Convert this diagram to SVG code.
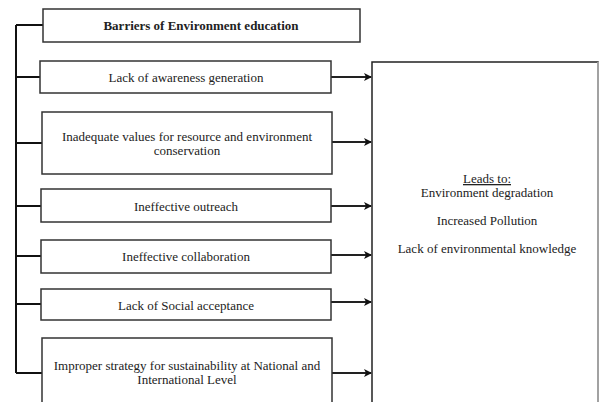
<svg xmlns="http://www.w3.org/2000/svg" width="603" height="402" viewBox="0 0 603 402">
<defs>
<style>
.box{fill:#fff;stroke:#333;stroke-width:1.5}
.t{font-family:"Liberation Serif","Times New Roman",serif;font-size:13px;fill:#222;text-anchor:middle}
.b{font-weight:bold}
.ln{fill:none;stroke:#111;stroke-width:2}
.ar{fill:none;stroke:#222;stroke-width:2}
</style>
<marker id="ah" markerWidth="10" markerHeight="10" refX="8" refY="5" orient="auto" markerUnits="userSpaceOnUse">
<path d="M1,1 L9,5 L1,9 L3,5 Z" fill="#111"/>
</marker>
</defs>
<rect width="603" height="402" fill="#fff"/>
<g id="connectors">
<path class="ln" d="M16,25 L16,373"/>
<path class="ln" d="M16,25 H43 M16,77 H40 M16,143 H42 M16,206 H41 M16,256 H41 M16,304 H41 M16,373 H42"/>
<path class="ar" marker-end="url(#ah)" d="M331,77 H371"/>
<path class="ar" marker-end="url(#ah)" d="M332,142 H371"/>
<path class="ar" marker-end="url(#ah)" d="M331,206 H371"/>
<path class="ar" marker-end="url(#ah)" d="M331,255 H371"/>
<path class="ar" marker-end="url(#ah)" d="M331,302 H371"/>
<path class="ar" marker-end="url(#ah)" d="M332,373 H371"/>
</g>
<g id="title">
<rect class="box" x="43" y="9" width="317" height="33"/>
<text class="t b" x="201" y="30">Barriers of Environment education</text>
</g>
<g id="awareness">
<rect class="box" x="40" y="61" width="291" height="32"/>
<text class="t" x="186" y="82">Lack of awareness generation</text>
</g>
<g id="values">
<rect class="box" x="42" y="112" width="290" height="62"/>
<text class="t" x="187" y="141">Inadequate values for resource and environment</text>
<text class="t" x="187" y="155">conservation</text>
</g>
<g id="outreach">
<rect class="box" x="41" y="189" width="290" height="33"/>
<text class="t" x="186" y="211">Ineffective outreach</text>
</g>
<g id="collaboration">
<rect class="box" x="41" y="240" width="290" height="33"/>
<text class="t" x="186" y="261">Ineffective collaboration</text>
</g>
<g id="social">
<rect class="box" x="41" y="289" width="290" height="31"/>
<text class="t" x="186" y="310">Lack of Social acceptance</text>
</g>
<g id="strategy">
<rect class="box" x="42" y="338" width="290" height="70"/>
<text class="t" x="187" y="370">Improper strategy for sustainability at National and</text>
<text class="t" x="187" y="384">International Level</text>
</g>
<g id="leads">
<rect x="372" y="62" width="226" height="346" fill="#fff" stroke="#222" stroke-width="1.5"/>
<path d="M598,62 V402" stroke="#bbb" stroke-width="1.5"/>
<text class="t" x="487" y="183" text-decoration="underline">Leads to:</text>
<text class="t" x="487" y="197">Environment degradation</text>
<text class="t" x="487" y="225">Increased Pollution</text>
<text class="t" x="487" y="253">Lack of environmental knowledge</text>
</g>
</svg>
